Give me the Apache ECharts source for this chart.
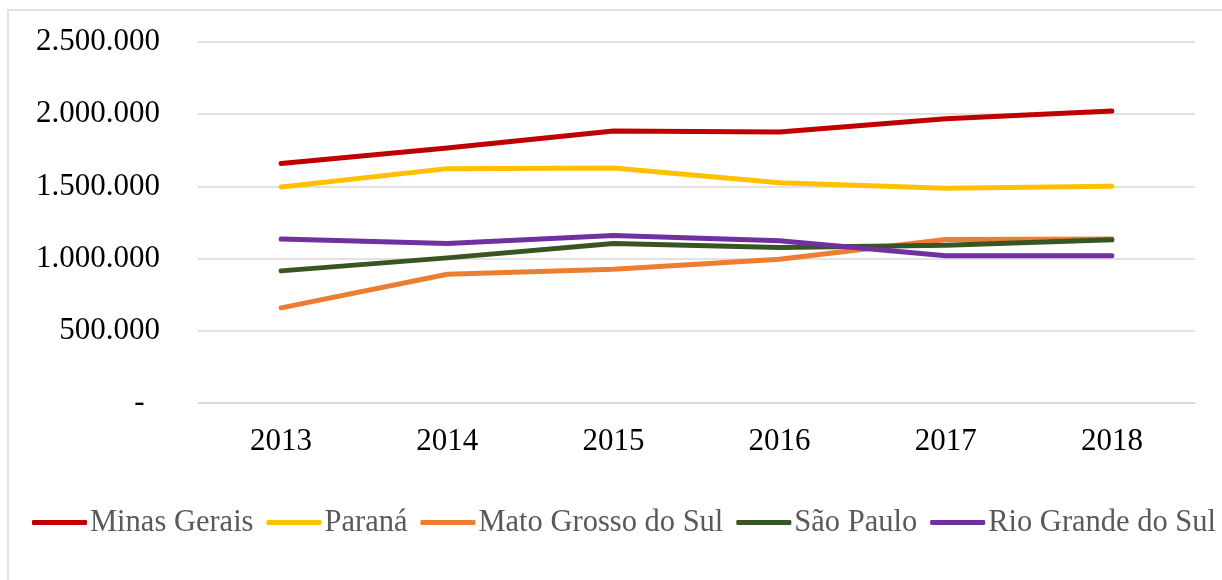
<!DOCTYPE html>
<html>
<head>
<meta charset="utf-8">
<script src="https://cdn.jsdelivr.net/npm/echarts@6/dist/echarts.min.js"></script>
<style>
html,body{margin:0;padding:0;background:#fff;}
#main{width:1222px;height:580px;}
</style>
</head>
<body>
<div id="main"></div>
<script>
var years = ['2013', '2014', '2015', '2016', '2017', '2018'];
var minasGerais = [1658000, 1766000, 1883000, 1876000, 1968000, 2022000];
var parana = [1496000, 1623000, 1628000, 1526000, 1487000, 1501000];
var matoGrossoSul = [659000, 892000, 927000, 996000, 1133000, 1136000];
var saoPaulo = [915000, 1005000, 1104000, 1077000, 1093000, 1130000];
var rioGrandeSul = [1136000, 1104000, 1160000, 1123000, 1019000, 1019000];
var names = ['Minas Gerais', 'Paraná', 'Mato Grosso do Sul', 'São Paulo', 'Rio Grande do Sul'];
var colors = ['#C00000', '#FFC000', '#ED7D31', '#375623', '#7030A0'];

var font = '"Liberation Serif", "Times New Roman", serif';

//formato brasileiro com pontos
function fmt(v){
	if(v==0){
		return '-  ';
	}
	return String(v).replace(/\B(?=(\d{3})+(?!\d))/g, '.');
}

var allData = [minasGerais, parana, matoGrossoSul, saoPaulo, rioGrandeSul];
var series = [];
for (var i = 0; i < names.length; i++) {
	series.push({
		name: names[i],
		type: 'line',
		data: allData[i],
		symbol: 'none',
		lineStyle: { width: 5, color: colors[i], cap: 'round', join: 'round' },
		itemStyle: { color: colors[i] }
	});
}

var myChart = echarts.init(document.getElementById('main'));
myChart.setOption({
	animation: false,
	backgroundColor: '#fff',
	graphic: [{
		type: 'rect',
		shape: { x: 8, y: 10, width: 1240, height: 600 },
		style: { fill: 'none', stroke: '#d9d9d9', lineWidth: 1.5 },
		silent: true
	}],
	grid: { left: 198, right: 27, top: 42, bottom: 177 },
	legend: {
		data: names,
		left: 32,
		top: 507,
		width: 1400,
		padding: 0,
		icon: 'roundRect',
		itemWidth: 55,
		itemHeight: 5,
		itemGap: 13,
		textStyle: { fontFamily: font, fontSize: 30.5, color: '#595959', padding: [0, 0, 0, -2] }
	},
	xAxis: {
		type: 'category',
		data: years,
		boundaryGap: true,
		axisLine: { lineStyle: { color: '#d9d9d9', width: 1.5 } },
		axisTick: { show: false },
		axisLabel: { fontFamily: font, fontSize: 31, color: '#000', margin: 23 }
	},
	yAxis: {
		type: 'value',
		min: 0,
		max: 2500000,
		interval: 500000,
		axisLine: { show: false },
		axisTick: { show: false },
		splitLine: { lineStyle: { color: '#d9d9d9', width: 1.5 } },
		axisLabel: { fontFamily: font, fontSize: 31, color: '#000', margin: 38, formatter: fmt }
	},
	series: series
});
</script>
</body>
</html>
